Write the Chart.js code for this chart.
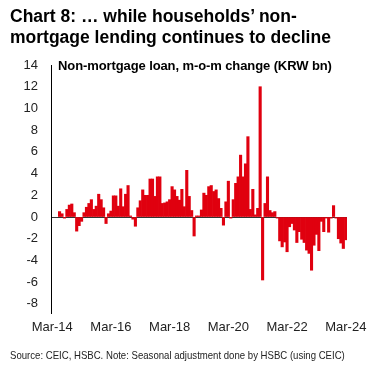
<!DOCTYPE html>
<html>
<head>
<meta charset="utf-8">
<script src="https://cdn.jsdelivr.net/npm/chart.js@4.4.1/dist/chart.umd.min.js"></script>
<style>
  html, body { margin: 0; padding: 0; background: #fff; }
  #wrap { position: relative; width: 377px; height: 375px; overflow: hidden; font-family: "Liberation Sans", Arial, sans-serif; color: #000; }
  #c { position: absolute; left: 0; top: 0; }
  .title { position: absolute; left: 10px; top: 6.4px; font-size: 17.5px; line-height: 20.5px; font-weight: bold; white-space: nowrap; }
  .sub { position: absolute; left: 58px; top: 59px; font-size: 13px; line-height: 13px; font-weight: bold; white-space: nowrap; letter-spacing: -0.1px; }
  .src { position: absolute; left: 10px; top: 349.7px; font-size: 11px; line-height: 11px; white-space: nowrap; color: #222; transform: scaleX(0.872); transform-origin: 0 0; }
</style>
</head>
<body>
<div id="wrap">
  <canvas id="c" width="377" height="375"></canvas>
  <div class="title">Chart 8: … while households’ non-<br>mortgage lending continues to decline</div>
  <div class="sub">Non-mortgage loan, m-o-m change (KRW bn)</div>
  <div class="src">Source: CEIC, HSBC. Note: Seasonal adjustment done by HSBC (using CEIC)</div>
</div>
<script>
// Month categories Mar-14 .. Mar-24
const monthNames = ['Jan','Feb','Mar','Apr','May','Jun','Jul','Aug','Sep','Oct','Nov','Dec'];
const categories = [];
for (let k = 0; k <= 120; k++) {
  const m = (2 + k) % 12;
  const y = 14 + Math.floor((2 + k) / 12);
  categories.push(monthNames[m] + '-' + String(y).padStart(2, '0'));
}
const tickLabels = ['Mar-14', 'Mar-16', 'Mar-18', 'Mar-20', 'Mar-22', 'Mar-24'];
const yTicks = [14, 12, 10, 8, 6, 4, 2, 0, -2, -4, -6, -8];

// Non-mortgage loan m-o-m change (Mar-14 .. Mar-24)
const values2014 = [null, null, null, 0.5, 0.3, -0.1, 0.7, 1.1, 1.2, 0.4];               // Mar-14..Dec-14
const values2015 = [-1.3, -0.8, -0.4, 0.4, 0.9, 1.25, 1.6, 0.7, 1.0, 2.1, 1.6, 0.85];  // Jan-15..Dec-15
const values2016 = [-0.6, 0.3, 0.55, 1.95, 1.95, 1.0, 2.6, 0.95, 2.1, 2.9, 0.1, -0.2];
const values2017 = [-0.85, 0.85, 1.5, 2.5, 2.0, 2.0, 3.5, 3.5, 1.9, 3.7, 3.7, 1.25];
const values2018 = [1.3, 1.4, 1.6, 2.8, 2.5, 1.9, 1.55, 2.55, 0.95, 4.3, 1.9, 0.6];
const values2019 = [-1.75, 0.1, 0.1, 0.65, 2.2, 2.0, 2.8, 2.9, 2.35, 2.5, 1.7, 0.8];
const values2020 = [-0.75, 1.4, 3.3, -0.1, 1.6, 3.1, 3.7, 5.7, 3.7, 4.9, 7.4, 0.7];
const values2021 = [2.55, 0.2, 0.8, 12.0, -5.8, 1.25, 3.7, 0.6, 0.4, 0.5, -0.1, -2.2];
const values2022 = [-2.75, -2.3, -3.2, -0.9, -0.6, -1.2, -2.35, -1.35, -2.05, -2.35, -3.05, -3.35];
const values2023 = [-4.9, -2.6, -1.6, -3.1, -0.4, -1.35, -0.1, -1.4, -0.1, 1.05, -0.1, -2.0];
const values2024 = [-2.4, -2.9, -2.1];
const values = [].concat(values2014, values2015, values2016, values2017, values2018,
  values2019, values2020, values2021, values2022, values2023, values2024);

const FONT = "'Liberation Sans', Arial, sans-serif";

new Chart(document.getElementById('c'), {
  type: 'bar',
  data: {
    labels: categories,
    datasets: [{
      data: values,
      backgroundColor: '#e0000f',
      borderWidth: 0,
      categoryPercentage: 1.0,
      barPercentage: 1.0
    }]
  },
  options: {
    responsive: false,
    devicePixelRatio: 1,
    animation: false,
    layout: { padding: { left: 0, top: 65, right: 30, bottom: 0 } },
    plugins: { legend: { display: false }, tooltip: { enabled: false }, title: { display: false } },
    scales: {
      x: {
        type: 'category',
        grid: { display: false, drawTicks: false },
        border: { display: false },
        ticks: {
          autoSkip: false, maxRotation: 0, minRotation: 0, padding: 7,
          color: '#222', font: { family: FONT, size: 13 },
          callback: function (val, idx) {
            const lab = categories[idx];
            return tickLabels.includes(lab) ? lab : '';
          }
        },
        afterFit: function (scale) { scale.height = 62; }
      },
      y: {
        min: -8.84, max: 14,
        afterBuildTicks: function (scale) { scale.ticks = yTicks.map(v => ({ value: v })); },
        grid: {
          drawTicks: false,
          color: function (ctx) { return ctx.tick && ctx.tick.value === 0 ? '#333' : 'rgba(0,0,0,0)'; },
          lineWidth: 1
        },
        border: { display: true, color: '#000', width: 1 },
        ticks: { padding: 13, color: '#222', font: { family: FONT, size: 13 } },
        afterFit: function (scale) { scale.width = 51; }
      }
    }
  }
});
</script>
</body>
</html>
